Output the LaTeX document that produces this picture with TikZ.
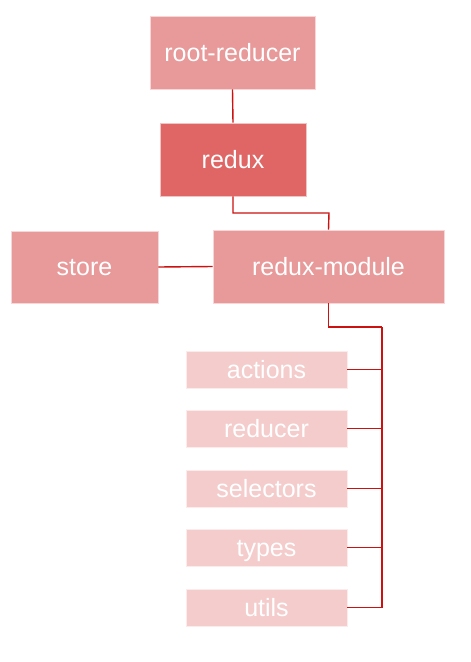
\documentclass[tikz,border=0pt]{standalone}
\usepackage{fontspec}
\setmainfont{Liberation Sans}
\definecolor{boxmid}{HTML}{E89999}
\definecolor{boxdark}{HTML}{E06666}
\definecolor{boxlight}{HTML}{F4CCCC}
\definecolor{linered}{HTML}{CC1111}
\begin{document}
\begin{tikzpicture}[x=1pt,y=-1pt,
  box/.style={rectangle,inner sep=0pt,text=white,text height=20.5pt,text depth=3pt,
    font=\fontsize{25}{28}\selectfont,draw=white!60!#1,line width=0.8pt,fill=#1},
  conn/.style={draw=linered,line width=1.4pt}]
\useasboundingbox (0,0) rectangle (471,662);
\node[box=boxmid,minimum width=165,minimum height=73] (root) at (232.5,52.5) {root-reducer};
\node[box=boxdark,minimum width=146,minimum height=73] (redux) at (233,159.5) {redux};
\node[box=boxmid,minimum width=147,minimum height=72] (store) at (84.5,267) {store};
\node[box=boxmid,minimum width=231,minimum height=73] (mod) at (328.5,266.5) {redux-module};
\node[box=boxlight,minimum width=161,minimum height=37] (actions) at (266.5,369.5) {actions};
\node[box=boxlight,minimum width=161,minimum height=37] (reducer) at (266.5,428.5) {reducer};
\node[box=boxlight,minimum width=161,minimum height=37] (selectors) at (266.5,488.5) {selectors};
\node[box=boxlight,minimum width=161,minimum height=37] (types) at (266.5,547.5) {types};
\node[box=boxlight,minimum width=161,minimum height=37] (utils) at (266.5,607.5) {utils};
\coordinate (bus) at (382,327);
\draw[conn] (root.south) -- (redux.north);
\draw[conn] (redux.south) |- (329,213) -- (mod.north);
\draw[conn] (store.east) -- (mod.west);
\draw[conn] (mod.south) |- (bus);
\draw[conn] (bus) |- (utils.east);
\foreach \n in {actions,reducer,selectors,types}
  \draw[conn] (\n.east) -- (bus |- \n.east);
\end{tikzpicture}
\end{document}
